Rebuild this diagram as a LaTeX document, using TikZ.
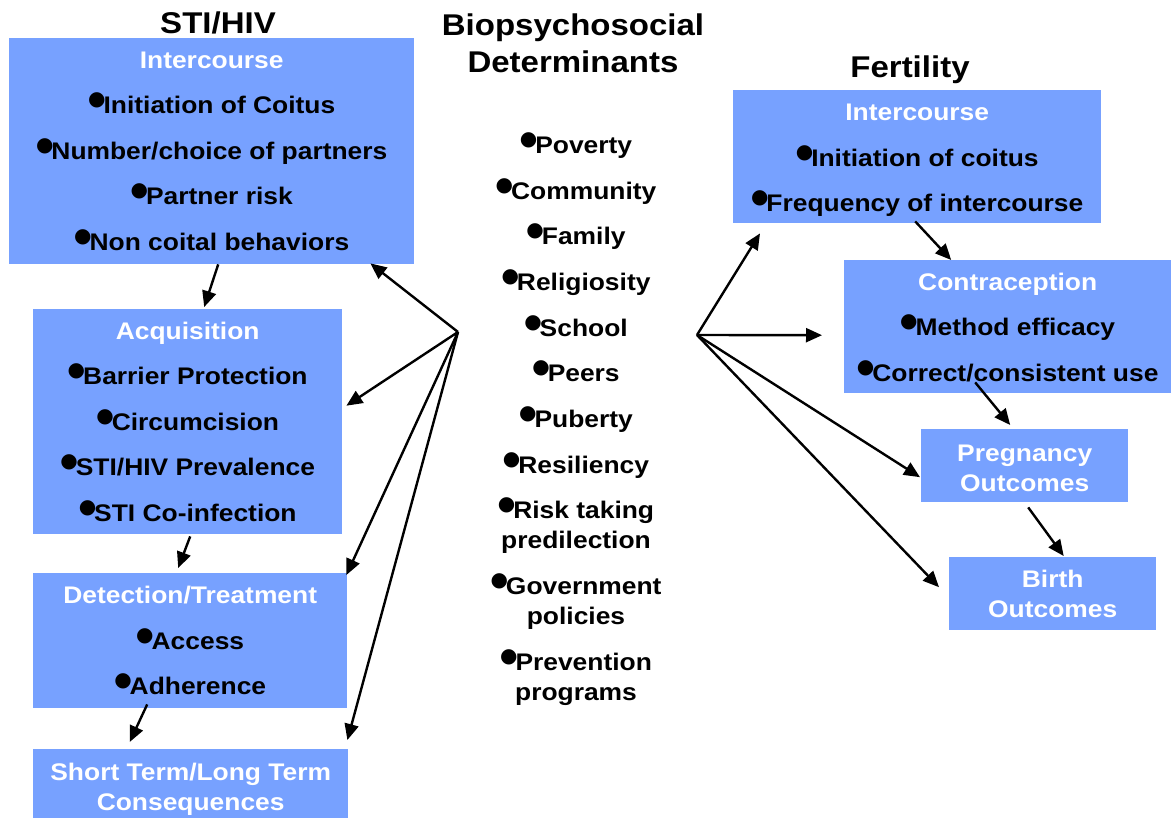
\documentclass[tikz,border=0pt]{standalone}
\usepackage{fontspec}
\setmainfont{Liberation Sans}[FakeStretch=1.1]
\newfontfamily\dejavu{DejaVu Sans}
\usetikzlibrary{arrows.meta,calc}
\definecolor{boxblue}{RGB}{119,161,255}
\newcommand\bul{\raisebox{8pt}{\dejavu\fontsize{20}{20}\selectfont ●}\kern-2pt}
\newcommand\wt[1]{\textcolor{white}{#1}}
\begin{document}
\begin{tikzpicture}[x=1pt,y=-1pt,
  every node/.style={font=\bfseries},
  boxnode/.style={fill=boxblue, inner sep=0pt, anchor=north west, align=center,
    font=\bfseries\fontsize{24}{45.5}\selectfont},
  twoline/.style={font=\bfseries\fontsize{24}{30}\selectfont},
  ttl/.style={font=\bfseries\fontsize{30}{37}\selectfont, align=center},
  listnode/.style={align=center, font=\bfseries\fontsize{24}{30}\selectfont},
  arr/.style={line width=2.4pt, -{Triangle[length=16pt,width=14pt]}}]
\useasboundingbox (0,0) rectangle (1171,818);

% titles
\node[ttl] (tSTI) at (218,23) {STI/HIV};
\node[ttl] (tBio) at (573,43) {Biopsychosocial\\Determinants};
\node[ttl] (tFer) at (910,70) {Fertility};

% left column
\node[boxnode, minimum width=405, minimum height=226] (iL) at (9,38)
  {\wt{Intercourse}\\ \bul Initiation of Coitus\\ \bul Number/choice of partners\\ \bul Partner risk\\ \bul Non coital behaviors};
\node[boxnode, minimum width=309, minimum height=225] (acq) at (33,309)
  {\wt{Acquisition}\\ \bul Barrier Protection\\ \bul Circumcision\\ \bul STI/HIV Prevalence\\ \bul STI Co-infection};
\node[boxnode, minimum width=314, minimum height=135] (det) at (33,573)
  {\wt{Detection/Treatment}\\ \bul Access\\ \bul Adherence};
\node[boxnode, twoline, minimum width=315, minimum height=81] (st) at (33,749)
  {\wt{Short Term/Long Term}\\ \wt{Consequences}};

% middle list
\node[listnode] (mid) at (576,419)
  {\bul Poverty\\[15.7pt] \bul Community\\[15.7pt] \bul Family\\[15.7pt] \bul Religiosity\\[15.7pt]
   \bul School\\[15.7pt] \bul Peers\\[15.7pt] \bul Puberty\\[15.7pt] \bul Resiliency\\[15.7pt]
   \bul Risk taking\\ predilection\\[15.7pt] \bul Government\\ policies\\[15.7pt] \bul Prevention\\ programs};

% right column
\node[boxnode, minimum width=368, minimum height=133] (iR) at (733,90)
  {\rule{0pt}{24pt}\wt{Intercourse}\\ \bul Initiation of coitus\\ \bul Frequency of intercourse};
\node[boxnode, minimum width=327, minimum height=133] (con) at (844,260)
  {\rule{0pt}{19pt}\wt{Contraception}\\ \bul Method efficacy\\ \bul Correct/consistent use};
\node[boxnode, twoline, minimum width=207, minimum height=73] (preg) at (921,429)
  {\rule{0pt}{21pt}\wt{Pregnancy}\\ \wt{Outcomes}};
\node[boxnode, twoline, minimum width=207, minimum height=73] (birth) at (949,557)
  {\wt{Birth}\\ \wt{Outcomes}};

% hubs
\coordinate (hubL) at (458,332);
\coordinate (hubR) at (697,335);

% left arrows
\draw[arr] (hubL) -- ($(iL.south east)+(-44,-1)$);
\draw[arr] (hubL) -- ($(acq.east)+(4,-16)$);
\draw[arr] (hubL) -- ($(det.north east)+(-1,2)$);
\draw[arr] (hubL) -- ($(st.north east)+(-1,-9)$);
\draw[arr] ($(iL.south)+(6.5,0)$) -- ($(acq.north)+(16.5,-2)$);
\draw[arr] ($(acq.south)+(2.5,2)$) -- ($(det.north)+(-12,-5)$);
\draw[arr] ($(det.south)+(-43,-4)$) -- ($(st.north)+(-61,-7)$);

% right arrows
\draw[arr] (hubR) -- ($(iR.south west)+(27,10)$);
\draw[arr] (hubR) -- ($(con.west)+(-22,8.5)$);
\draw[arr] (hubR) -- ($(preg.west)+(-1,11.5)$);
\draw[arr] (hubR) -- ($(birth.west)+(-10,-6.5)$);
\draw[arr] ($(iR.south)+(-2,-2)$) -- ($(con.north)+(-56.5,0)$);
\draw[arr] ($(con.south)+(-32.5,-11)$) -- ($(preg.north)+(-14.5,-4)$);
\draw[arr] ($(preg.south)+(3.5,5)$) -- ($(birth.north)+(11,-1)$);
\end{tikzpicture}
\end{document}
